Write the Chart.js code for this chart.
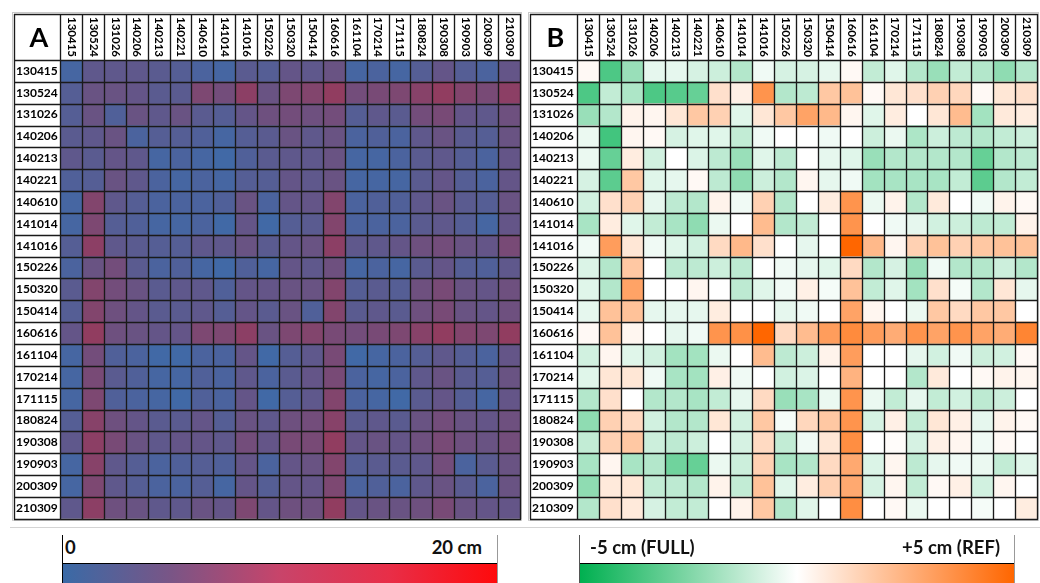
<!DOCTYPE html>
<html lang="en">
<head>
<meta charset="UTF-8">
<title>Surface difference matrices</title>
<script src="https://cdn.jsdelivr.net/npm/chart.js"></script>
<style>
  body { margin: 0; width: 1040px; height: 583px; overflow: hidden; background: #fff; position: relative; font-family: Lato, "Open Sans", sans-serif; }
  canvas { position: absolute; top: 0; }
  #chartA { left: 0; }
  #chartB { left: 516px; }
  .sep { position: absolute; left: 10px; top: 527px; width: 1030px; height: 1px; background: #d4d4d4; }
  .cbar { position: absolute; top: 535px; width: 436px; height: 48px; box-sizing: border-box; }
  .cbar .grad { position: absolute; left: 0; right: 0; top: 28px; bottom: 0; border-top: 1px solid #000; }
  .cbar span { position: absolute; top: 1px; font-weight: bold; font-size: 18.5px; line-height: 22px; color: #111; }
  #barA { left: 62px; border-left: 1px solid #000; border-right: 1px solid #999; }
  #barA .grad { background: linear-gradient(to right, #3a6aa6 0%, #7a5586 25%, #c8446a 50%, #e82e48 75%, #ff0a0c 100%); }
  #barB { left: 579px; border-left: 1px solid #555; border-right: 1px solid #999; }
  #barB .grad { background: linear-gradient(to right, #00b050 0%, #7fd6a6 25%, #ffffff 50%, #ffb27f 75%, #ff6600 100%); }
</style>
</head>
<body>

<canvas id="chartA" width="525" height="526"></canvas>
<canvas id="chartB" width="524" height="526"></canvas>
<div class="sep"></div>

<div class="cbar" id="barA">
  <div class="grad"></div>
  <span style="left:2px">0</span>
  <span style="right:15px">20 cm</span>
</div>
<div class="cbar" id="barB">
  <div class="grad"></div>
  <span style="left:10px">-5 cm (FULL)</span>
  <span style="right:14px">+5 cm (REF)</span>
</div>

<script>
const colLabels = ['130415','130524','131026','140206','140213','140221','140610','141014','141016','150226',
  '150320','150414','160616','161104','170214','171115','180824','190308','190903','200309','210309'];
const rowLabels = colLabels.slice();

// panel A: absolute difference (cm), 0..20
const valuesA = [
  [1.5,4,4,4,3.5,3,2,1.5,3.5,3,4.5,4,5,1.5,2,1.5,3,4.5,3,2,4.5],
  [3,5,5,4.5,3.5,3.5,7,6,8.5,5,7,7.5,9,6,6.5,7,8,9,7.5,6.5,8.5],
  [3,5,2.5,5,4,5,3.5,3,4.5,5.5,6,5.5,6,3,4,3.5,6,6.5,4.5,4,5.5],
  [3.5,4,5,2,3,3,2.5,1.5,3,3.5,5,4,5,2,2.5,2,4,5,3.5,3,5],
  [4,3.5,4.5,4,1.5,2,1.5,1,2.5,3.5,4,4,5,1.5,1.5,2,3.5,4,3,2,4.5],
  [2.5,3,5,4,2,1.5,2,1.5,3,3,4.5,4,5,1.5,1.5,1.5,3.5,4.5,3,2,4.5],
  [1.5,7.5,4,3,2,2,2,2.5,5,2,4.5,4.5,7.5,2,2.5,2.5,4,5,3.5,3,5],
  [1.5,7,3,2.5,1.5,1.5,2,1,4.5,1,3,3.5,7.5,2,2,2,3.5,4,3,1.5,4.5],
  [3,8.5,4,3.5,3,3,4,4,5,3.5,4.5,5,8.5,4,4,4.5,5.5,6,5,4.5,6.5],
  [2,5,6,3.5,2,2.5,1.5,1,2.5,1.5,4.5,4,5.5,1.5,2,1.5,3.5,4.5,3,2.5,4],
  [3.5,7.5,6,5,3.5,4,4,2.5,4.5,4.5,5,5,7.5,3,3.5,3,5.5,6.5,5,4.5,5.5],
  [3,7.5,5.5,4.5,3.5,3.5,4,3,4.5,3.5,5,2.5,7.5,3.5,4,3.5,5.5,6.5,5,4.5,5.5],
  [4.5,9,5.5,5,4.5,4.5,7,7,8.5,5,7,7.5,6.5,6,6.5,7,8,9,7.5,7,9],
  [1.5,6,2.5,2,1,1,2,2,4.5,1,3,4,6.5,1,1.5,2,3,4,3,2,4.5],
  [1.5,6.5,3.5,2.5,1.5,1.5,2.5,2,4,2,3.5,4.5,6.5,2,1.5,2,4,5,3.5,3,5],
  [1.5,7,2.5,2,1.5,1,2.5,2,4.5,1,3,4,7.5,2,1.5,1,3.5,4.5,3,1.5,4.5],
  [3,8,5.5,4.5,3.5,3.5,4.5,3,5,4,5.5,6,8,3.5,4,3.5,5,6,5,4.5,5.5],
  [4,8.5,6.5,5,4,4.5,4.5,4,6,4.5,6.5,6.5,9,4.5,5,4.5,5.5,6.5,5.5,5,6],
  [1.5,8,4,3,2,2.5,3,2.5,4.5,2,4.5,5,7.5,3,3.5,3.5,4,6,2,3.5,5],
  [1.5,7,4,3,2,2,3,1.5,4.5,3,4.5,4.5,7,2,2.5,2,4,5,3.5,2,5],
  [4,8.5,5.5,5,4,4,5,4.5,7,4.5,5.5,5.5,9,4.5,5,5,5.5,6.5,5,4.5,4.5]
];

// panel B: signed difference (cm), -5 (FULL) .. +5 (REF)
const valuesB = [
  [0.2,-3.5,-2,-0.5,-0.5,-0.8,-1,-1.5,-0.3,-0.8,-0.8,-0.5,0.2,-1.2,-0.6,-1.5,-2,-1.2,-1.5,-2.2,-1.5],
  [-3.5,-1.2,-1.6,-3.5,-3.3,-3,1,0.5,3.5,-1.5,-1.3,1.8,2,0.2,0.8,1,1.5,1.3,0.2,0.8,1],
  [-2,-1.5,0.4,0.3,0.8,1.8,1.5,-0.6,0.8,1.8,3,2.3,0.3,-0.6,0.6,0,0.8,2.2,-1.8,0.7,0.6],
  [-0.4,-3.7,0.3,0.2,-0.8,-0.6,-0.6,-1.2,-0.3,0,0,-0.3,0,-1,-0.4,-1.6,-1,-1.3,-1.5,-1.2,-1],
  [-0.4,-3,0.6,-0.9,0,-0.7,-1.3,-2,-0.6,-1.3,0,-0.5,-0.6,-2,-1.5,-1.5,-1.5,-1.5,-3,-1.5,-1.3],
  [-0.8,-3.2,1.8,-0.6,-0.5,0.2,-1.3,-2.2,-1,-1.5,0.3,-0.5,-0.3,-1.8,-1.7,-1.7,-1.7,-1.2,-3.2,-1.5,-1.2],
  [-0.9,1,1.5,-0.5,-1.3,-1.5,0.4,-0.3,1.5,-1.5,0,0.6,3.5,-0.4,0.4,-1.5,0.7,0,-0.3,0.4,0.2],
  [-1.7,0.6,-0.6,-1.2,-1.7,-2.2,-0.4,0,2.2,-1.5,-1.2,0,3.5,0,-0.3,-0.5,-0.9,-1,-1.3,-1.2,0.4],
  [-0.3,3.2,0.8,-0.3,-0.6,-0.9,1.2,2.3,1,0,-0.5,0,5,2.3,0.3,1.5,2,1.5,1.8,2,2],
  [-0.7,-1.5,1.8,0,-1.3,-1.3,-1,-1.3,0,-0.3,-0.5,-0.6,1.2,-1.5,-0.8,-2,-0.3,-1.5,-1.5,-1,-1.5],
  [-0.6,-1.5,3,0,0,0.3,0,-1.3,-0.6,-0.3,0.5,-0.2,2,-1.2,-0.6,-1.8,1,-0.2,-1.5,0.8,-0.5],
  [-0.5,2,2,-0.5,-0.5,-0.5,0.6,0,0,-0.5,-0.3,0,3,0.3,0,-0.4,1.8,1.2,1.8,1.8,0],
  [0.2,2,0.3,0,-0.5,-0.3,3.5,3.6,5,1.2,2.2,3.2,3.8,3.2,2.7,3.5,3,3.5,3,2.7,4],
  [-0.9,0.3,-0.6,-0.9,-1.8,-1.8,-0.4,0,2.2,-1.3,-1,0.4,3.2,0,0,-0.5,-0.9,-0.3,-1,-0.9,0.2],
  [-0.6,0.8,0.8,-0.3,-1.7,-1.8,0.5,-0.3,0,-0.9,-0.7,0,2.5,0,0,-1.5,0.7,0,0.2,0.4,0.3],
  [-1.5,1,0,-1.5,-1.5,-1.7,-1.2,-0.5,1.2,-2,-1.7,-0.4,3.5,-0.4,-1.2,-0.5,-1.2,-0.9,-1.3,-1,0],
  [-2.2,1.5,1.2,-0.9,-1.5,-1.5,0.8,-0.9,1.8,-0.2,1.3,1.8,3.5,-0.8,0.5,-1.2,0.8,0.5,-0.5,0.4,0.2],
  [-1.2,1.5,1.8,-1,-1.3,-1,0,-0.8,1.2,-1.2,-0.3,0.8,3.7,0,0.1,-0.8,0.5,0.3,-0.3,0.2,0],
  [-1.7,0.3,-1.7,-1.5,-2.8,-3,-0.4,-1,1.5,-1.7,-1.5,1.2,2.8,-0.7,0.3,-1.3,-0.5,-0.3,-0.4,-1.2,-0.6],
  [-2.2,0.7,0.8,-1.2,-1.3,-1.5,0.4,-1.2,2,-0.6,0.6,1.5,2.8,-0.8,0.3,-1.2,0.2,0.5,-0.9,0.3,0],
  [-1.5,1,0.7,-0.8,-1.2,-1.2,0,0.4,1.8,-1.5,-0.6,0,3.7,0,0.2,-0.4,0,0,-0.2,0,0.6]
];

function mix(a, b, t) {
  t = Math.max(0, Math.min(1, t));
  return 'rgb(' + a.map((c, k) => Math.round(c + (b[k] - c) * t)).join(',') + ')';
}
function colorA(v) { return mix([55, 110, 175], [255, 0, 0], v / 20); }
function colorB(v) {
  return v < 0 ? mix([255, 255, 255], [0, 176, 80], -v / 5) : mix([255, 255, 255], [255, 102, 0], v / 5);
}

// table frame, grid, header letter and vertical column labels
const tablePlugin = {
  id: 'table',
  afterDraw(chart, args, opts) {
    const ctx = chart.ctx, xs = chart.scales.x, ys = chart.scales.y, a = chart.chartArea;
    const L = opts.left, T = opts.top;
    ctx.save();
    ctx.strokeStyle = '#c8c8c8';
    ctx.lineWidth = 1;
    ctx.strokeRect(L - 1.5, T - 1.5, a.right - L + 3, a.bottom - T + 3);
    ctx.strokeStyle = '#1a1a1a';
    ctx.lineWidth = 1.35;
    ctx.beginPath();
    for (let j = 0; j <= colLabels.length; j++) {
      const px = Math.round(xs.getPixelForValue(j)) + 0.5;
      ctx.moveTo(px, T); ctx.lineTo(px, a.bottom + 0.5);
    }
    ctx.moveTo(L + 0.5, T); ctx.lineTo(L + 0.5, a.bottom + 0.5);
    for (let i = 0; i <= rowLabels.length; i++) {
      const py = Math.round(ys.getPixelForValue(i - 0.5)) + 0.5;
      ctx.moveTo(L, py); ctx.lineTo(a.right + 1, py);
    }
    ctx.moveTo(L, T + 0.5); ctx.lineTo(a.right + 1, T + 0.5);
    ctx.stroke();

    ctx.fillStyle = '#000';
    ctx.font = 'bold 27px Lato';
    ctx.textAlign = 'center';
    ctx.textBaseline = 'middle';
    ctx.fillText(opts.letter, (L + a.left) / 2 + 2, (T + a.top) / 2 + 1);

    ctx.font = 'bold 11.5px Lato';
    ctx.textAlign = 'left';
    ctx.fillStyle = '#000';
    colLabels.forEach((lab, j) => {
      ctx.save();
      ctx.translate(xs.getPixelForValue(j + 0.5) + 0.5, T + 3);
      ctx.rotate(Math.PI / 2);
      ctx.fillText(lab, 0, 0);
      ctx.restore();
    });
    ctx.restore();
  }
};

function makePanel(id, letter, values, colorFn, labelWidth) {
  const datasets = colLabels.map((c, j) => ({
    label: c,
    data: rowLabels.map(() => 1),
    backgroundColor: rowLabels.map((r, i) => colorFn(values[i][j])),
    borderWidth: 0,
    categoryPercentage: 1,
    barPercentage: 1
  }));
  return new Chart(document.getElementById(id), {
    type: 'bar',
    data: { labels: rowLabels, datasets },
    options: {
      indexAxis: 'y',
      responsive: false,
      animation: false,
      layout: { padding: { left: 16, top: 14, right: id === 'chartA' ? 5 : 3, bottom: 6 } },
      plugins: {
        legend: { display: false },
        tooltip: { enabled: false },
        table: { left: 14, top: 14, letter }
      },
      scales: {
        x: {
          type: 'linear', position: 'top', stacked: true, min: 0, max: colLabels.length,
          grid: { display: false }, border: { display: false },
          ticks: { display: false },
          afterFit(s) { s.height = 46; }
        },
        y: {
          stacked: true,
          grid: { display: false }, border: { display: false },
          ticks: { crossAlign: 'far', color: '#000', padding: 0, font: { family: 'Lato', size: 12, weight: 'bold' } },
          afterFit(s) { s.width = labelWidth; }
        }
      }
    },
    plugins: [tablePlugin]
  });
}

makePanel('chartA', 'A', valuesA, colorA, 44);
makePanel('chartB', 'B', valuesB, colorB, 45);
</script>
</body>
</html>
